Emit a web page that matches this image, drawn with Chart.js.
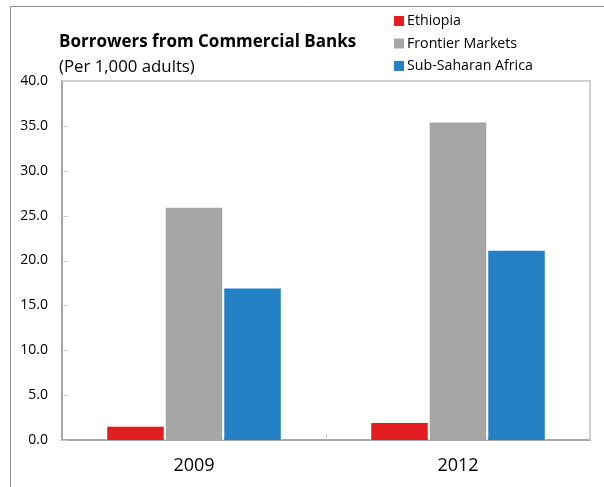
<!DOCTYPE html>
<html>
<head>
<meta charset="utf-8">
<script src="https://cdn.jsdelivr.net/npm/chart.js@4.4.1/dist/chart.umd.min.js"></script>
<style>
  html, body { margin: 0; padding: 0; background: #fff; }
  #wrap { width: 604px; height: 487px; position: relative; }
</style>
</head>
<body>
<div id="wrap"><canvas id="grafico_barras" width="604" height="487"></canvas></div>
<script>
var anios = ["2009", "2012"];
var etiquetas_series = ["Ethiopia", "Frontier Markets", "Sub-Saharan Africa"];
var colores_series = ["#e31d1f", "#a6a6a6", "#2381c4"];
var valores_ethiopia = [1.6, 2.0];
var valores_frontier = [26.0, 35.5];
var valores_ssa = [17.0, 21.2];
var marcas_y = [0, 5, 10, 15, 20, 25, 30, 35, 40];

var fuente = "'Open Sans', 'Noto Sans', sans-serif";

// title, legend, frame and the small inside tick marks
var decoracion = {
    id: "decoracion",
    afterDraw: function (chart) {
        var ctx = chart.ctx;
        var area = chart.chartArea;
        ctx.save();

        // outer frame (left and top only are visible)
        ctx.strokeStyle = "#8c8c8c";
        ctx.lineWidth = 1;
        ctx.beginPath();
        ctx.moveTo(10.5, 487);
        ctx.lineTo(10.5, 6.5);
        ctx.lineTo(604, 6.5);
        ctx.stroke();

        // plot box, top and right
        ctx.strokeStyle = "#d0d0d0";
        ctx.lineWidth = 2;
        ctx.beginPath();
        ctx.moveTo(area.left, area.top);
        ctx.lineTo(area.right, area.top);
        ctx.lineTo(area.right, area.bottom);
        ctx.stroke();

        // tick marks drawn inside the plot
        var ys = chart.scales.y;
        ctx.strokeStyle = "#c8c8c8";
        ctx.lineWidth = 1;
        marcas_y.forEach(function (v) {
            var py = Math.round(ys.getPixelForValue(v)) + 0.5;
            ctx.beginPath();
            ctx.moveTo(area.left, py);
            ctx.lineTo(area.left + 6, py);
            ctx.stroke();
        });
        var xs = chart.scales.x;
        var medio = Math.round((xs.getPixelForValue(0) + xs.getPixelForValue(1)) / 2) + 0.5;
        ctx.beginPath();
        ctx.moveTo(medio, area.bottom);
        ctx.lineTo(medio, area.bottom - 6);
        ctx.stroke();

        // title and subtitle
        ctx.fillStyle = "#000";
        ctx.textBaseline = "middle";
        ctx.textAlign = "left";
        ctx.font = "bold 17px " + fuente;
        ctx.fillText("Borrowers from Commercial Banks", 59, 42);
        ctx.font = "16.8px " + fuente;
        ctx.fillText("(Per 1,000 adults)", 59, 67);

        // legend
        ctx.font = "14.2px " + fuente;
        chart.data.datasets.forEach(function (ds, i) {
            var cy = 21 + i * 22.5;
            ctx.fillStyle = ds.backgroundColor;
            ctx.fillRect(394, cy - 5, 10, 10);
            ctx.fillStyle = "#000";
            ctx.fillText(ds.label, 407, cy);
        });

        ctx.restore();
    }
};

document.addEventListener("DOMContentLoaded", function () {
    var ctx = document.getElementById("grafico_barras").getContext("2d");
    var myChart = new Chart(ctx, {
        type: "bar",
        data: {
            labels: anios,
            datasets: [
                { label: etiquetas_series[0], data: valores_ethiopia, backgroundColor: colores_series[0] },
                { label: etiquetas_series[1], data: valores_frontier, backgroundColor: colores_series[1] },
                { label: etiquetas_series[2], data: valores_ssa, backgroundColor: colores_series[2] }
            ]
        },
        options: {
            responsive: false,
            animation: false,
            devicePixelRatio: 1,
            layout: { padding: { left: 10, right: 14, top: 81, bottom: 0 } },
            datasets: {
                bar: {
                    categoryPercentage: 0.665,
                    barPercentage: 1,
                    borderWidth: 1,
                    borderColor: "#ffffff",
                    borderSkipped: "bottom"
                }
            },
            plugins: {
                legend: { display: false },
                title: { display: false },
                tooltip: { enabled: false }
            },
            scales: {
                x: {
                    type: "category",
                    grid: { display: false, drawTicks: false },
                    border: { color: "#a6a6a6", width: 2 },
                    ticks: { color: "#000", padding: 15, font: { family: fuente, size: 18 } },
                    afterFit: function (s) { s.height = 47; }
                },
                y: {
                    min: 0,
                    max: 40,
                    afterBuildTicks: function (s) {
                        s.ticks = marcas_y.map(function (v) { return { value: v }; });
                    },
                    grid: { display: false, drawTicks: false },
                    border: { color: "#a6a6a6", width: 2 },
                    ticks: {
                        color: "#000",
                        padding: 14,
                        font: { family: fuente, size: 14 },
                        callback: function (v) { return Number(v).toFixed(1); }
                    },
                    afterFit: function (s) { s.width = 52; }
                }
            }
        },
        plugins: [decoracion]
    });
});
</script>
</body>
</html>
